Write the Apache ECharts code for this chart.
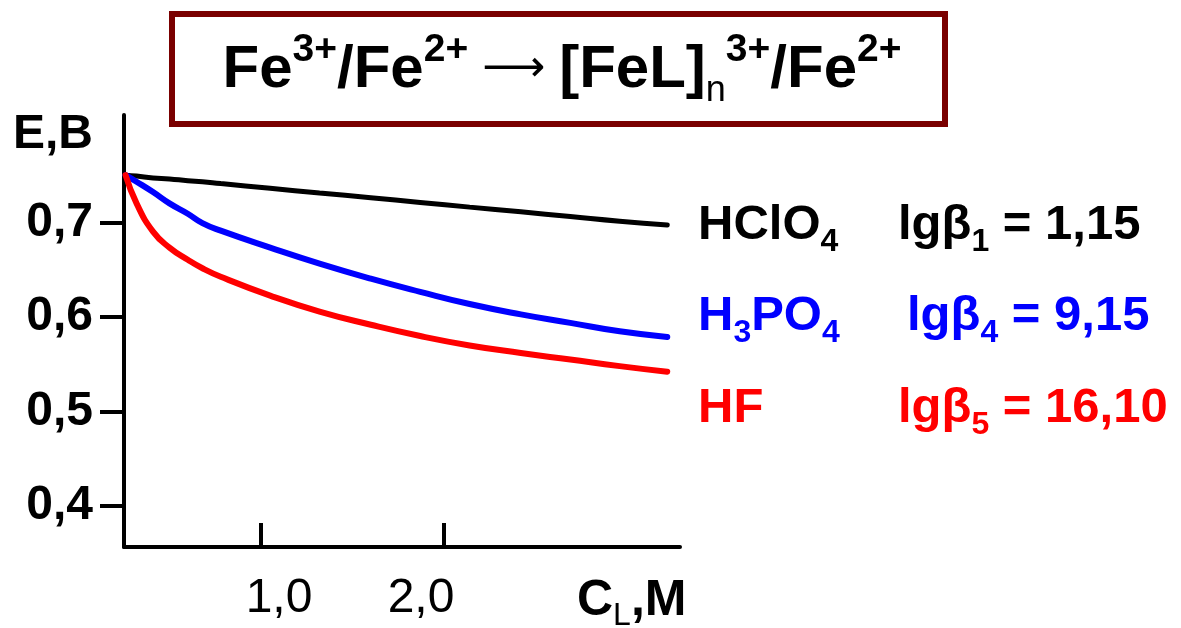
<!DOCTYPE html>
<html>
<head>
<meta charset="utf-8">
<script src="https://cdn.jsdelivr.net/npm/echarts@6/dist/echarts.min.js"></script>
<style>
html,body{margin:0;padding:0;background:#fff;}
#chart{width:1181px;height:628px;}
</style>
</head>
<body>
<div id="chart"></div>
<script>
// Ligand concentration C_L, M
const cl = [0.26, 0.32, 0.41, 0.50, 0.60, 0.68, 0.78, 1.05, 1.32, 1.60, 1.87, 2.14, 2.42, 2.69, 2.96, 3.22];
// Potential E, V
const eHClO4 = [0.751, 0.750, 0.748, 0.747, 0.745, 0.744, 0.742, 0.737, 0.732, 0.727, 0.722, 0.717, 0.712, 0.707, 0.702, 0.698];
const eH3PO4 = [0.751, 0.744, 0.733, 0.721, 0.710, 0.700, 0.692, 0.674, 0.657, 0.641, 0.627, 0.614, 0.603, 0.594, 0.585, 0.579];
const eHF    = [0.751, 0.721, 0.691, 0.674, 0.661, 0.652, 0.643, 0.623, 0.606, 0.592, 0.580, 0.570, 0.562, 0.555, 0.548, 0.542];
const xTicks = [1, 2];
const yTicks = [0.4, 0.5, 0.6, 0.7];

const FONT = "'Liberation Sans', Arial, sans-serif";
const pairs = (xs, ys) => xs.map((x, i) => [x, ys[i]]);
const fmt = v => v.toFixed(1).replace('.', ',');

const chart = echarts.init(document.getElementById('chart'), null, {renderer: 'canvas'});

const mainSt = (c, fs, lh) => ({fontFamily: FONT, fontSize: fs || 49, fontWeight: 'bold', color: c, lineHeight: lh || 66});
const subSt = (c, fs) => ({fontFamily: FONT, fontSize: fs || 32, fontWeight: 'bold', color: c, lineHeight: 32, verticalAlign: 'bottom'});
const supSt = (c, fs) => ({fontFamily: FONT, fontSize: fs || 32, fontWeight: 'bold', color: c, lineHeight: 32, verticalAlign: 'top'});
const richFor = c => ({m: mainSt(c), s: subSt(c)});

function label(x, yc, text, color) {
  return {type: 'text', x: x, y: yc, z: 10,
    style: {text: text, rich: richFor(color), verticalAlign: 'middle', align: 'left', fill: color}};
}

const option = {
  backgroundColor: '#fff',
  animation: false,
  grid: {left: 124, right: 501, top: 115, bottom: 81},
  xAxis: {
    type: 'value', min: 0.2514, max: 3.2896,
    splitLine: {show: false},
    axisLine: {lineStyle: {color: '#000', width: 4}},
    axisTick: {customValues: xTicks, inside: true, length: 24, lineStyle: {color: '#000', width: 4}},
    axisLabel: {
      customValues: xTicks, margin: 28,
      formatter: v => (v === 1 ? '{a|' : '{b|') + fmt(v) + '}',
      rich: {
        a: {fontFamily: FONT, fontSize: 48, color: '#000', padding: [0, 0, 0, 36]},
        b: {fontFamily: FONT, fontSize: 48, color: '#000', padding: [0, 46, 0, 0]}
      }
    }
  },
  yAxis: {
    type: 'value', min: 0.3558, max: 0.8149,
    splitLine: {show: false},
    axisLine: {lineStyle: {color: '#000', width: 4}},
    axisTick: {customValues: yTicks, inside: false, length: 24, lineStyle: {color: '#000', width: 4}},
    axisLabel: {customValues: yTicks, margin: 31, formatter: fmt,
      fontFamily: FONT, fontSize: 48, fontWeight: 'bold', color: '#000'}
  },
  series: [
    {name: 'HClO4', type: 'line', data: pairs(cl, eHClO4), showSymbol: false, smooth: 0.5,
     lineStyle: {color: '#000', width: 5, cap: 'round'}, z: 3},
    {name: 'H3PO4', type: 'line', data: pairs(cl, eH3PO4), showSymbol: false, smooth: 0.5,
     lineStyle: {color: '#0000ff', width: 6, cap: 'round', join: 'round'}, z: 4},
    {name: 'HF', type: 'line', data: pairs(cl, eHF), showSymbol: false, smooth: 0.5,
     lineStyle: {color: '#ff0000', width: 6, cap: 'round', join: 'round'}, z: 5}
  ],
  graphic: [
    {type: 'rect', shape: {x: 172, y: 14, width: 773, height: 110},
     style: {fill: '#fff', stroke: '#7a0000', lineWidth: 6}, z: 5},
    {type: 'text', x: 562, y: 70, z: 10,
     style: {
       text: '{m|Fe}{p|3+}{m|/Fe}{p|2+}{a| ⟶ }{m|[FeL]}{n|n}{p|3+}{m|/Fe}{p|2+}',
       align: 'center', verticalAlign: 'middle',
       rich: {
         m: mainSt('#000', 60, 78),
         p: supSt('#000', 39),
         n: {fontFamily: FONT, fontSize: 36, color: '#000', lineHeight: 36, verticalAlign: 'bottom'},
         a: {fontFamily: "'DejaVu Sans', sans-serif", fontSize: 44, color: '#000', lineHeight: 78}
       }
     }},
    {type: 'text', left: 13, top: 111, z: 10,
     style: {text: 'E,B', font: 'bold 48px ' + FONT, fill: '#000'}},
    {type: 'text', x: 577, y: 601, z: 10,
     style: {text: '{m|C}{l|L}{m|,M}', verticalAlign: 'middle',
       rich: {m: mainSt('#000', 50, 62), l: {fontFamily: FONT, fontSize: 32, color: '#000', lineHeight: 32, verticalAlign: 'bottom'}}}},
    label(698, 225, '{m|HClO}{s|4}', '#000'),
    label(898, 225, '{m|lgβ}{s|1}{m| = 1,15}', '#000'),
    label(698, 316, '{m|H}{s|3}{m|PO}{s|4}', '#0000ff'),
    label(907, 316, '{m|lgβ}{s|4}{m| = 9,15}', '#0000ff'),
    label(698, 408, '{m|HF}', '#ff0000'),
    label(898, 408, '{m|lgβ}{s|5}{m| = 16,10}', '#ff0000')
  ]
};
chart.setOption(option);
</script>
</body>
</html>
